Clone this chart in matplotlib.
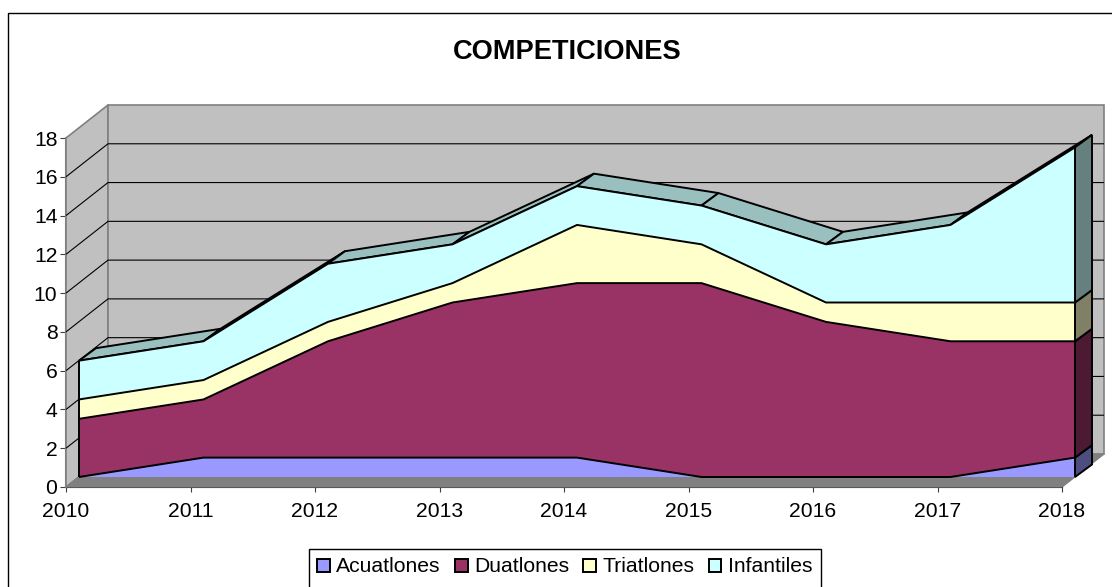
import matplotlib
matplotlib.use('Agg')
import matplotlib.pyplot as plt
from matplotlib.patches import Polygon, Patch, Rectangle
from matplotlib.lines import Line2D
from matplotlib.transforms import IdentityTransform

plt.rcParams['font.family'] = ['Liberation Sans', 'DejaVu Sans']

years = [2010, 2011, 2012, 2013, 2014, 2015, 2016, 2017, 2018]
acuatlones = [0, 1, 1, 1, 1, 0, 0, 0, 1]
duatlones = [3, 3, 6, 8, 9, 10, 8, 7, 6]
triatlones = [1, 1, 1, 1, 3, 2, 1, 2, 2]
infantiles = [2, 2, 3, 2, 2, 2, 3, 4, 8]
names = ['Acuatlones', 'Duatlones', 'Triatlones', 'Infantiles']
colors = ['#9999FF', '#993366', '#FFFFCC', '#CCFFFF']
side_colors = ['#4D4D80', '#4D1A33', '#808066', '#668080']
top_color = '#99BFBF'

W, H = 1112, 587
fig = plt.figure(figsize=(W / 100, H / 100), dpi=100, facecolor='white')
ax = fig.add_axes([66 / W, 1 - 487 / H, 996 / W, 349 / H])
ax.set_xlim(2010, 2018)
ax.set_ylim(0, 18)
ax.patch.set_visible(False)

# offsets in pixels for the fake 3D depth
FRONT = (13, 10)
BACK = (30, 22.5)
WALL = (42, 33)
px = IdentityTransform()


def proj(x, v, d=(0, 0)):
    p = ax.transData.transform((x, v))
    return (p[0] + d[0], p[1] + d[1])


def poly(pts, face, edge='black', lw=1.4, z=2):
    fig.add_artist(Polygon(pts, closed=True, facecolor=face, edgecolor=edge, linewidth=lw,
                           transform=px, zorder=z, joinstyle='miter'))


def line(pts, color='black', lw=1.4, z=3):
    fig.add_artist(Line2D([p[0] for p in pts], [p[1] for p in pts], color=color, linewidth=lw,
                          transform=px, zorder=z, solid_capstyle='butt'))


# chart border, runs off the bottom and right of the picture
fig.add_artist(Rectangle((8 / W, -0.1), 1.1, 1.1 - 13 / H, facecolor='white', edgecolor='black',
                         linewidth=1.0, transform=fig.transFigure, zorder=0))

# walls and floor
x0, x1 = years[0], years[-1]
poly([proj(x0, 0), proj(x0, 18), proj(x0, 18, WALL), proj(x0, 0, WALL)], '#C0C0C0', '#808080', 1.2, 1)
poly([proj(x0, 0, WALL), proj(x0, 18, WALL), proj(x1, 18, WALL), proj(x1, 0, WALL)], '#C0C0C0', '#808080', 1.2, 1)
poly([proj(x0, 0), proj(x1, 0), proj(x1, 0, WALL), proj(x0, 0, WALL)], '#808080', '#808080', 1.0, 1.2)

for v in range(2, 18, 2):
    line([proj(x0, v), proj(x0, v, WALL), proj(x1, v, WALL)], 'black', 0.8, 1.5)

# stack the series
levels = [[0] * len(years)]
for s in [acuatlones, duatlones, triatlones, infantiles]:
    levels.append([a + b for a, b in zip(levels[-1], s)])

# top surface of the stack
total = levels[-1]
for i in range(len(years) - 1):
    poly([proj(years[i], total[i], FRONT), proj(years[i + 1], total[i + 1], FRONT),
          proj(years[i + 1], total[i + 1], BACK), proj(years[i], total[i], BACK)], top_color, z=2)

# right hand end faces
for k in range(4):
    low, high = levels[k][-1], levels[k + 1][-1]
    poly([proj(x1, low, FRONT), proj(x1, high, FRONT), proj(x1, high, BACK), proj(x1, low, BACK)],
         side_colors[k], z=2.2)

# front faces
for k in range(4):
    upper = [proj(x, v, FRONT) for x, v in zip(years, levels[k + 1])]
    lower = [proj(x, v, FRONT) for x, v in zip(years, levels[k])]
    poly(upper + lower[::-1], colors[k], 'none', 0, 2.5)
for k in range(4):
    upper = [proj(x, v, FRONT) for x, v in zip(years, levels[k + 1])]
    line(upper, z=2.7)
line([proj(x0, 0, FRONT), proj(x0, total[0], FRONT)], z=2.7)
line([proj(x1, 0, FRONT), proj(x1, total[-1], FRONT)], z=2.7)

# axes
for side in ['top', 'right']:
    ax.spines[side].set_visible(False)
ax.spines['left'].set_color('#808080')
ax.spines['left'].set_linewidth(1.5)
ax.spines['bottom'].set_color('black')
ax.spines['bottom'].set_linewidth(0.8)
ax.spines['left'].set_zorder(5)
ax.spines['bottom'].set_zorder(5)
ax.set_xticks(years)
ax.set_xticklabels([str(y) for y in years])
ax.set_yticks(range(0, 19, 2))
ax.tick_params(axis='x', labelsize=15.2, length=3.5, width=0.8, pad=7, color='#404040')
ax.tick_params(axis='y', labelsize=15.2, length=4, width=0.8, pad=2.2, color='#404040')

fig.text(567.5 / W, 1 - 52 / H, 'COMPETICIONES', fontsize=19.6, fontweight='bold',
         ha='center', va='center', color='black')

# legend box also runs off the bottom
fig.add_artist(Rectangle((309 / W, -0.1), 512 / W, 0.1 + 1 - 549 / H, facecolor='white', edgecolor='black',
                         linewidth=1.0, transform=fig.transFigure, zorder=4))
handles = [Patch(facecolor=c, edgecolor='black', linewidth=1.4) for c in colors]
fig.legend(handles, names, loc='center left', bbox_to_anchor=(317 / W, 1 - 567 / H), ncol=4,
           fontsize=15.2, frameon=False, handlelength=0.6, handleheight=0.57, handletextpad=0.3,
           columnspacing=0.68, borderpad=0, borderaxespad=0).set_zorder(6)

fig.savefig('out.png', dpi=100)
